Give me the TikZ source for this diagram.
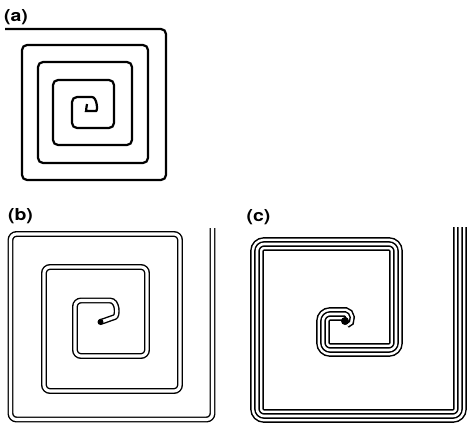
\documentclass[tikz,border=0pt]{standalone}
\usepackage{fontspec}
\setsansfont{TeX Gyre Heros}
\begin{document}
\begin{tikzpicture}[x=1pt,y=-1pt,
  lbl/.style={font=\sffamily\bfseries\fontsize{16.5}{16.5}\selectfont, inner sep=0pt},
  coilone/.style={line width=2.2pt, rounded corners=5pt},
  coiltwo/.style={line width=1.4pt, double=white, double distance=3.1pt, rounded corners=6pt},
  coilfour/.style={line width=13.6pt, rounded corners=7pt,
    postaction={draw=white, line width=10.6pt},
    postaction={draw=black, line width=5.6pt},
    postaction={draw=white, line width=2.6pt}}]
\useasboundingbox (0,0) rectangle (467,431);

% labels
\node[lbl] (la) at (16,17.5) {\scalebox{1.18}[1]{(a)}};
\node[lbl] (lb) at (20.5,216.5) {\scalebox{1.18}[1]{(b)}};
\node[lbl] (lc) at (258.5,217.5) {\scalebox{1.18}[1]{(c)}};

% (a) single-wire spiral
\draw[coilone] (5,29) -- (166,29) -- (166,180) -- (22,180) -- (22,45)
  -- (148,45) -- (148,163) -- (38,163) -- (38,62) -- (132,62) -- (132,145)
  -- (53,145) -- (53,80) -- (114,80) -- (114,128) -- (72,128) -- (72,97)
  -- (87,97) .. controls (97,97) and (98,111) .. (91,111)
  .. controls (86.5,111) and (86,106.5) .. (87,104);

% (b) two-wire spiral
\draw[coiltwo] (212.5,228) -- (212.5,419.5) -- (10.5,419.5) -- (10.5,234)
  -- (180,234) -- (180,391) -- (44,391) -- (44,267) -- (147,267) -- (147,356)
  -- (75,356) -- (75,300.5) -- (104,300.5)
  .. controls (118,300.5) and (118,316) .. (109,319)
  .. controls (105,320.5) and (102,321.5) .. (100,322);
\fill (100.5,322) circle (3pt);

% (c) four-wire spiral
\draw[coilfour] (460,227) -- (460,416) -- (257,416) -- (257,244) -- (396,244)
  -- (396,350) -- (323,350) -- (323,314) -- (338,314)
  .. controls (348,314) and (350,321) .. (345,322);
\fill (345,321) circle (4pt);
\end{tikzpicture}
\end{document}
